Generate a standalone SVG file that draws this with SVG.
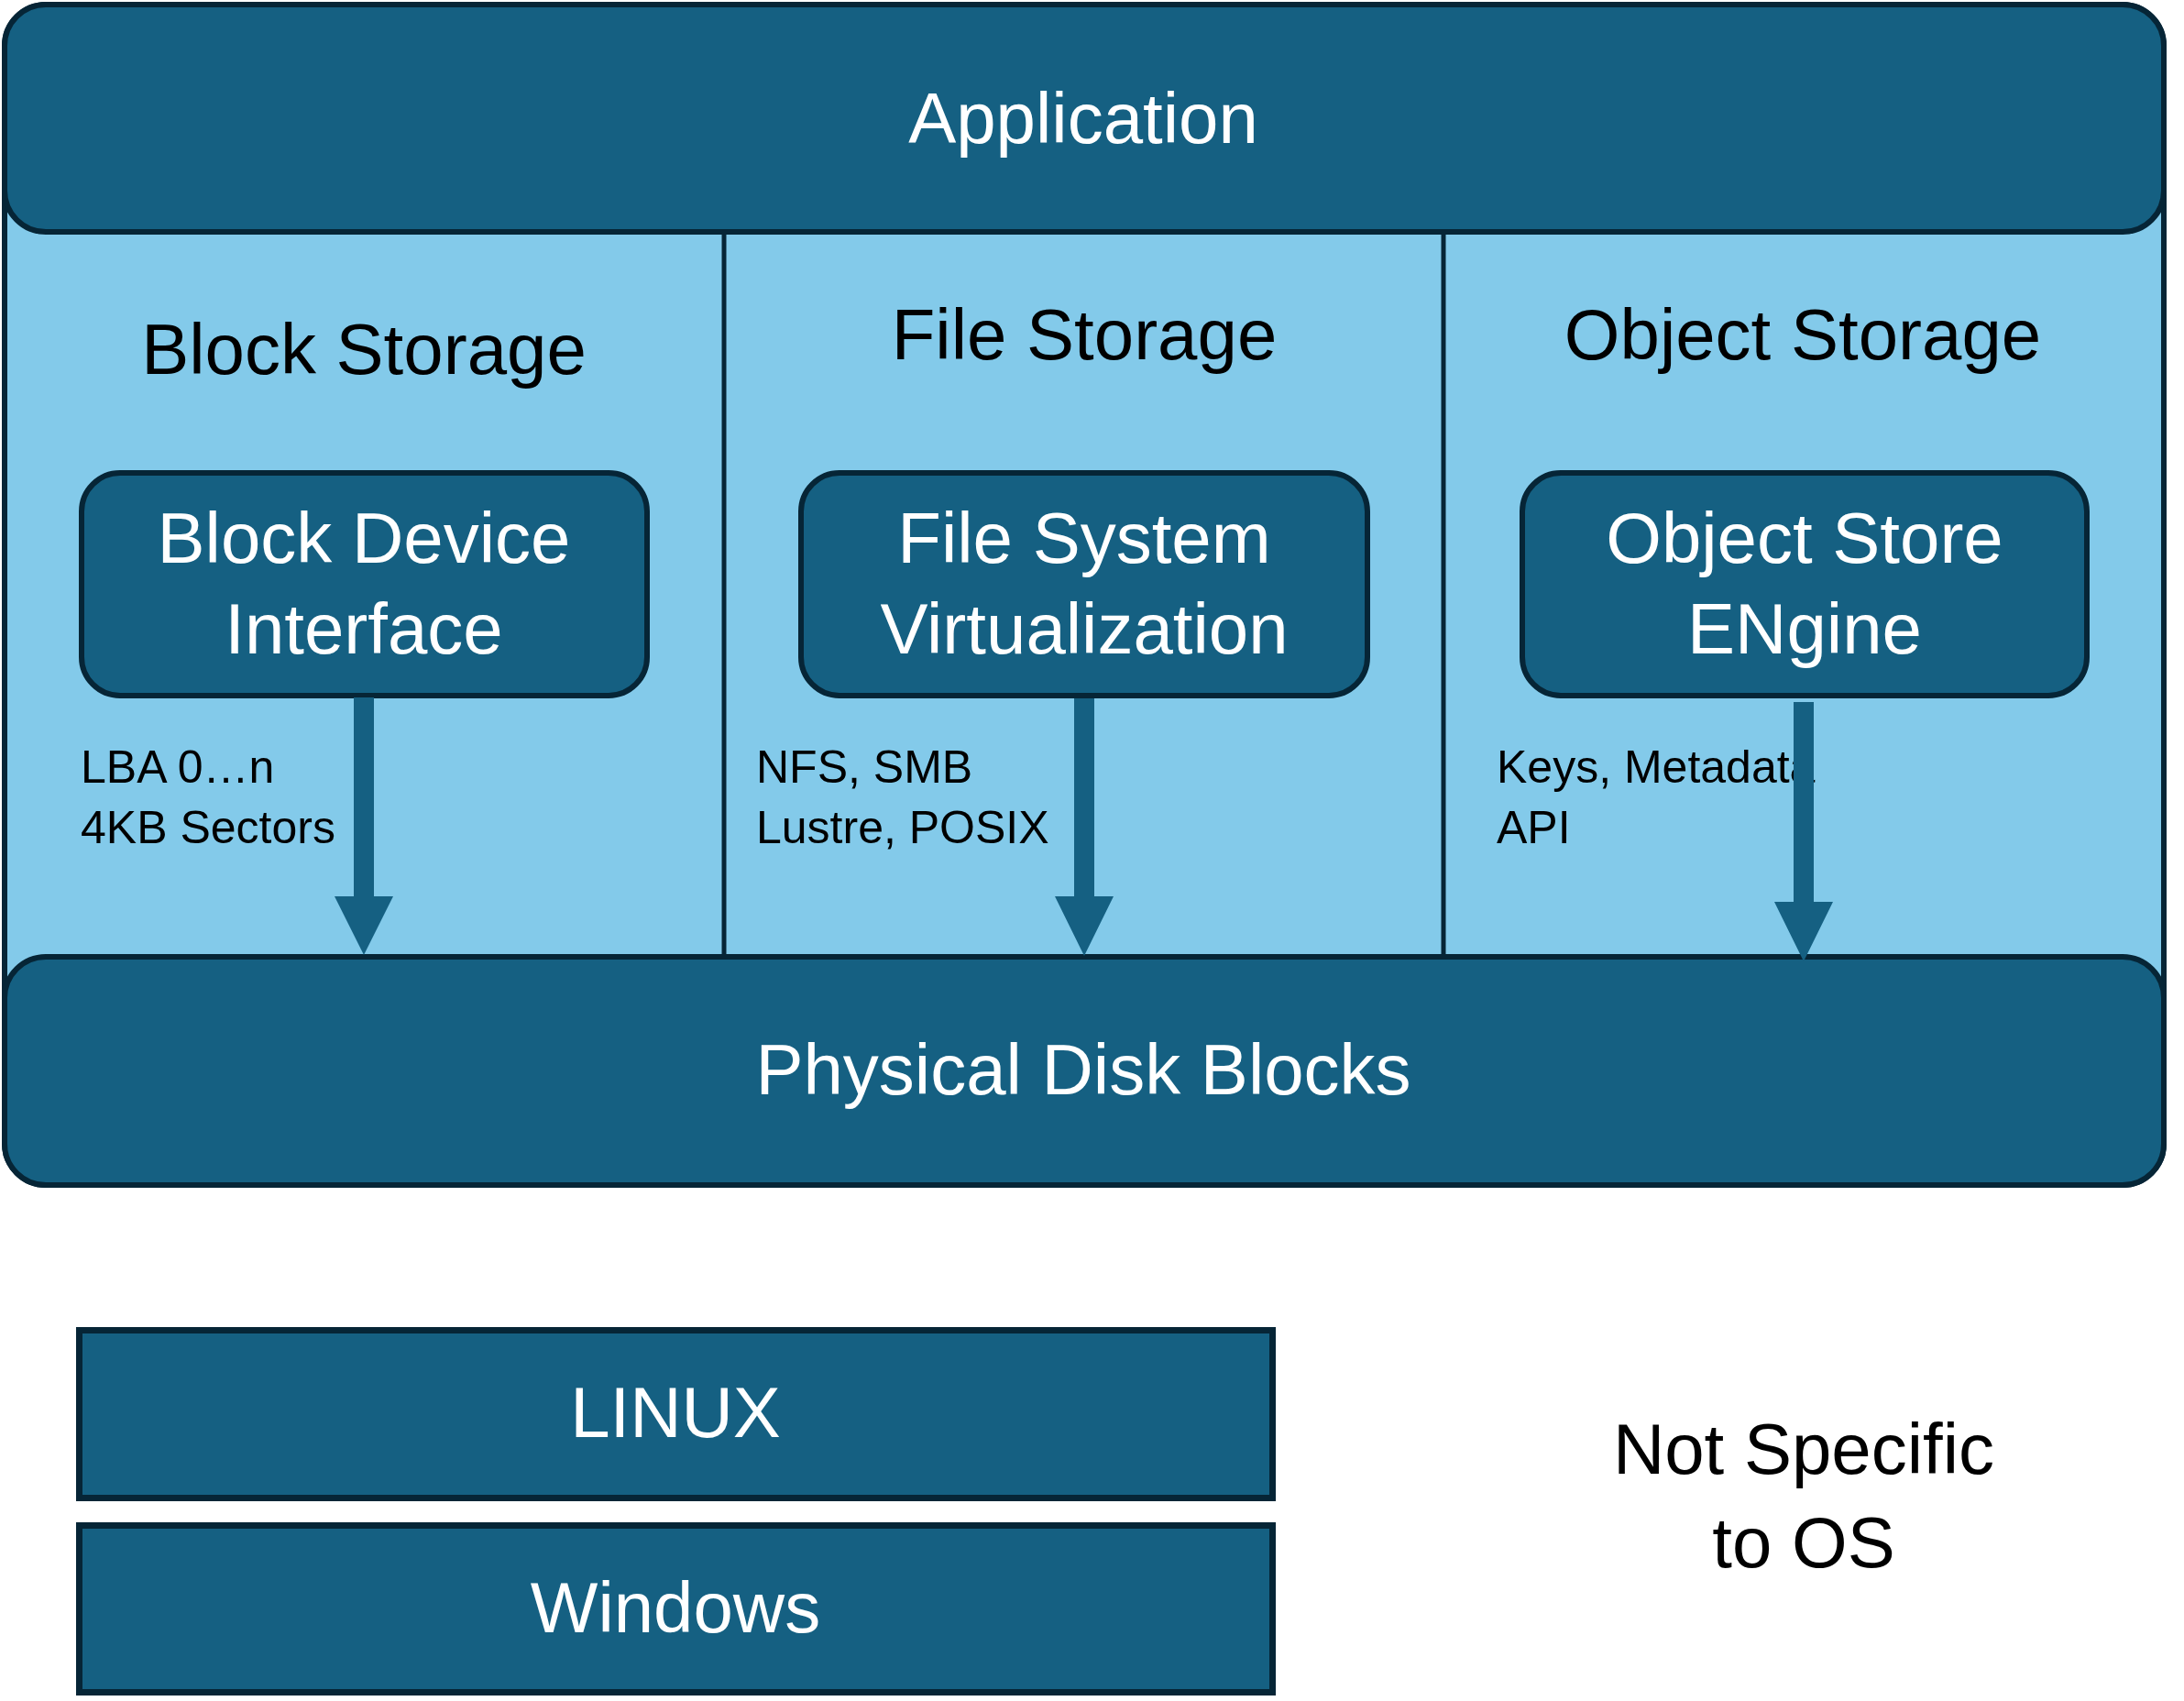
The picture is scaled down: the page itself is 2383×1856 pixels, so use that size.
<svg xmlns="http://www.w3.org/2000/svg" width="2383" height="1856" viewBox="0 0 2383 1856">
  <style>
    .dark { fill: #156082; stroke: #062536; stroke-width: 6; }
    .os { fill: #156082; stroke: #062536; stroke-width: 7; }
    .light { fill: #83CAEA; stroke: #062536; stroke-width: 6; }
    .div { stroke: #062536; stroke-width: 5; fill: none; }
    .big { font-family: "Liberation Sans", Arial, sans-serif; font-size: 78px; text-anchor: middle; }
    .w { fill: #FFFFFF; }
    .b { fill: #000000; }
    .small { font-family: "Liberation Sans", Arial, sans-serif; font-size: 50px; fill: #000000; }
    .arrow { fill: #156082; stroke: none; }
  </style>
  <rect x="0" y="0" width="2383" height="1856" fill="#FFFFFF"/>

  <g id="container">
    <rect class="light" x="5" y="5" width="2356" height="1288" rx="45" ry="45"/>
    <line class="div" x1="790" y1="253" x2="790" y2="1044"/>
    <line class="div" x1="1575" y1="253" x2="1575" y2="1044"/>
  </g>

  <g id="application">
    <rect class="dark" x="5" y="5" width="2356" height="248" rx="45" ry="45"/>
    <text class="big w" x="1182" y="156">Application</text>
  </g>

  <g id="block-storage">
    <text class="big b" x="397" y="408">Block Storage</text>
  </g>
  <g id="file-storage">
    <text class="big b" x="1183" y="392">File Storage</text>
  </g>
  <g id="object-storage">
    <text class="big b" x="1967" y="392">Object Storage</text>
  </g>

  <g id="block-device-interface">
    <rect class="dark" x="89" y="516" width="617" height="243" rx="42" ry="42"/>
    <text class="big w" x="397" y="614">Block Device</text>
    <text class="big w" x="397" y="713">Interface</text>
  </g>
  <g id="file-system-virtualization">
    <rect class="dark" x="874" y="516" width="618" height="243" rx="42" ry="42"/>
    <text class="big w" x="1183" y="614">File System</text>
    <text class="big w" x="1183" y="713">Virtualization</text>
  </g>
  <g id="object-store-engine">
    <rect class="dark" x="1661" y="516" width="616" height="243" rx="42" ry="42"/>
    <text class="big w" x="1969" y="614">Object Store</text>
    <text class="big w" x="1969" y="713">ENgine</text>
  </g>

  <g id="labels">
    <text class="small" x="88" y="854">LBA 0…n</text>
    <text class="small" x="88" y="920">4KB Sectors</text>
    <text class="small" x="825" y="854">NFS, SMB</text>
    <text class="small" x="825" y="920">Lustre, POSIX</text>
    <text class="small" x="1633" y="854">Keys, Metadata</text>
    <text class="small" x="1633" y="920">API</text>
  </g>

  <g id="physical-disk-blocks">
    <rect class="dark" x="5" y="1044" width="2356" height="249" rx="45" ry="45"/>
    <text class="big w" x="1182" y="1194">Physical Disk Blocks</text>
  </g>

  <g id="connectors">
    <polygon class="arrow" points="386,761 408,761 408,978 429,978 397,1042 365,978 386,978"/>
    <polygon class="arrow" points="1172,762 1194,762 1194,978 1215,978 1183,1043 1151,978 1172,978"/>
    <polygon class="arrow" points="1957,766 1979,766 1979,984 2000,984 1968,1049 1936,984 1957,984"/>
  </g>

  <g id="linux">
    <rect class="os" x="86.5" y="1451.5" width="1302" height="183"/>
    <text class="big w" x="737" y="1568">LINUX</text>
  </g>
  <g id="windows">
    <rect class="os" x="86.5" y="1664.5" width="1302" height="182"/>
    <text class="big w" x="737" y="1781">Windows</text>
  </g>

  <g id="not-specific">
    <text class="big b" x="1968" y="1608">Not Specific</text>
    <text class="big b" x="1968" y="1710">to OS</text>
  </g>
</svg>
